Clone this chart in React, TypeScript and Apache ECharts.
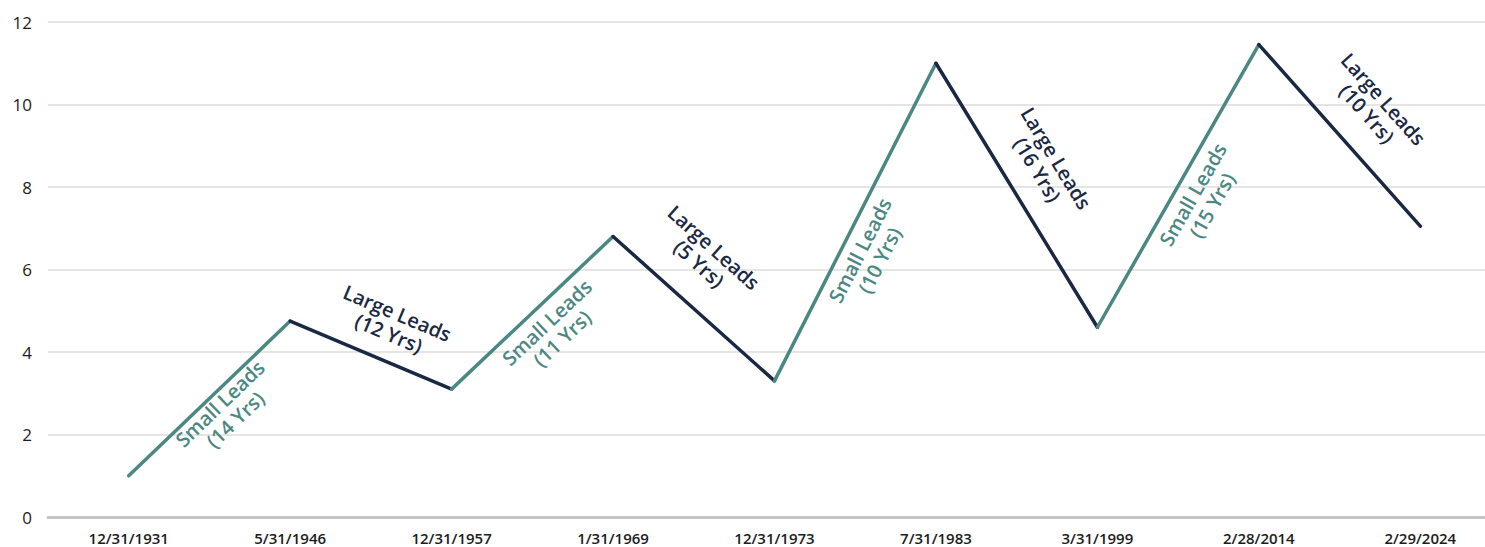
import React, { useEffect, useRef } from "react";
import * as echarts from "echarts";

// Cycle turning points (x categories) and the index level at each
const dates = [
  "12/31/1931",
  "5/31/1946",
  "12/31/1957",
  "1/31/1969",
  "12/31/1973",
  "7/31/1983",
  "3/31/1999",
  "2/28/2014",
  "2/29/2024",
];
const levels = [1.0, 4.75, 3.1, 6.8, 3.3, 11.0, 4.6, 11.45, 7.05];

// One entry per leg between consecutive turning points
const legLeaders = ["Small", "Large", "Small", "Large", "Small", "Large", "Small", "Large"];
const legYears = [14, 12, 11, 5, 10, 16, 15, 10];
// Caption placement: gap off the leg, and slide along it (negative = toward its start)
const legLabelGap = [0, 16, 6, 26, 6, 20, 6, 24];
const legLabelSlide = [4, 8, 4, -26, -23, -11, 0, 2];

const yTicks = { min: 0, max: 12, interval: 2 };

const TEAL = "#4b8882";
const NAVY = "#1b2843";
const FONT = "'Open Sans', 'Noto Sans', sans-serif";

export default function App() {
  const ref = useRef<HTMLDivElement>(null);

  useEffect(() => {
    if (!ref.current) return;
    const chart = echarts.init(ref.current, undefined, { renderer: "svg" });

    const series = legLeaders.map((leader, i) => {
      const color = leader === "Small" ? TEAL : NAVY;
      const rising = levels[i + 1] > levels[i];
      const s = legLabelSlide[i];
      return {
        type: "line",
        data: levels.map((v, j) => (j === i || j === i + 1 ? v : null)),
        connectNulls: false,
        symbol: "none",
        lineStyle: { color, width: 3.5, cap: "round", join: "round" },
        z: 3,
        markLine: {
          silent: true,
          symbol: "none",
          lineStyle: { color: "transparent", width: 0 },
          label: {
            show: true,
            position: rising ? "insideMiddleBottom" : "insideMiddleTop",
            distance: legLabelGap[i],
            formatter: `${leader} Leads\n(${legYears[i]} Yrs)`,
            color,
            fontFamily: FONT,
            fontSize: 20,
            fontWeight: 600,
            lineHeight: 22,
            align: "center",
            padding: s < 0 ? [0, -2 * s, 0, 0] : [0, 0, 0, 2 * s],
          },
          data: [
            [
              { coord: [i, levels[i]] },
              { coord: [i + 1, levels[i + 1]] },
            ],
          ],
        },
      };
    });

    chart.setOption({
      animation: false,
      backgroundColor: "#ffffff",
      grid: {
        left: 48,
        width: 1453,
        top: 22,
        bottom: 30,
        containLabel: false,
        outerBoundsMode: "none",
      },
      xAxis: {
        type: "category",
        data: dates,
        boundaryGap: true,
        axisLine: { show: true, lineStyle: { color: "#c4c4c4", width: 3 } },
        axisTick: { show: false },
        axisLabel: {
          color: "#1c1c1c",
          fontFamily: FONT,
          fontSize: 15,
          fontWeight: 600,
          margin: 13,
          interval: 0,
        },
        splitLine: { show: false },
      },
      yAxis: {
        type: "value",
        min: yTicks.min,
        max: yTicks.max,
        interval: yTicks.interval,
        axisLine: { show: false },
        axisTick: { show: false },
        axisLabel: {
          color: "#1c1c1c",
          fontFamily: FONT,
          fontSize: 17,
          fontWeight: 500,
          margin: 16,
        },
        splitLine: { lineStyle: { color: "#dcdcdc", width: 1.5 } },
      },
      series,
    });

    return () => chart.dispose();
  }, []);

  return (
    <div
      ref={ref}
      style={{ position: "fixed", left: 0, top: 0, width: 1485, height: 547 }}
    />
  );
}
